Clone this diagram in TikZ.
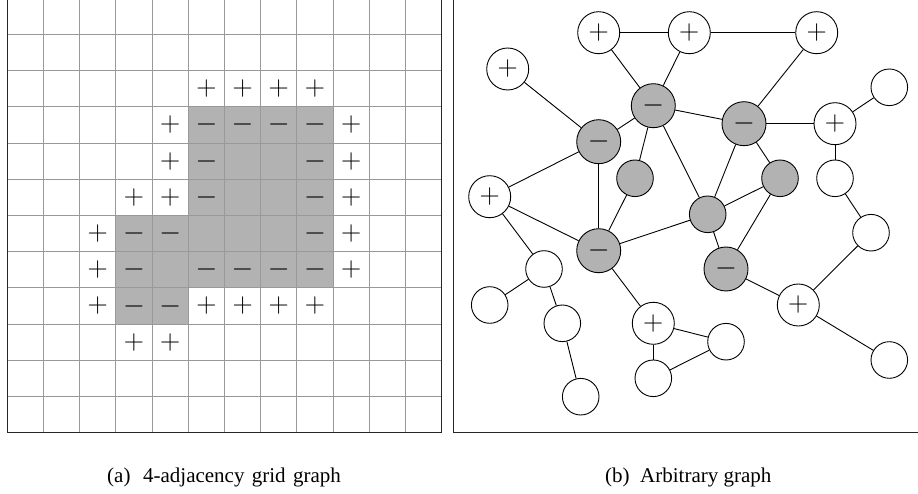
\RequirePackage{fix-cm}
\documentclass[tikz,border=0pt]{standalone}
\usepackage[no-math]{fontspec}
\setmainfont{Liberation Serif}
\begin{document}
\begin{tikzpicture}[x=1pt,y=-1pt,
  gridline/.style={draw=black!40, line width=0.9pt},
  frameline/.style={draw=black!85, line width=1.1pt},
  cellfill/.style={fill=black!30},
  sign/.style={inner sep=0pt, font=\fontsize{28}{30}\selectfont},
  pnode/.style={circle, draw, line width=0.9pt, fill=white, minimum size=42pt, inner sep=0pt, font=\fontsize{28}{30}\selectfont},
  mnode/.style={circle, draw, line width=0.9pt, fill=black!30, minimum size=44pt, inner sep=0pt, font=\fontsize{28}{30}\selectfont},
  gnode/.style={circle, draw, line width=0.9pt, fill=black!30, minimum size=36.6pt, inner sep=0pt},
  enode/.style={circle, draw, line width=0.9pt, fill=white, minimum size=36.6pt, inner sep=0pt},
  link/.style={draw, line width=0.9pt},
  captext/.style={font=\fontsize{21}{24}\selectfont, inner sep=0pt, anchor=base west}
]
\useasboundingbox (0,0) rectangle (918,494);
\clip (0,0) rectangle (918,494);

% ---------- (a) grid ----------
\begin{scope}[shift={(7.3,-1.7)}, x=36.2pt, y=-36.2pt]
  \fill[cellfill] (5,3) rectangle (9,8);
  \fill[cellfill] (3,6) rectangle (5,9);
  \foreach \i in {1,...,11} {
    \draw[gridline] (\i,0) -- (\i,12);
    \draw[gridline] (0,\i) -- (12,\i);
  }
  \foreach \c/\r in {5/2,6/2,7/2,8/2,4/3,9/3,4/4,9/4,3/5,4/5,9/5,2/6,9/6,2/7,9/7,2/8,5/8,6/8,7/8,8/8,3/9,4/9}
    \node[sign] (p-\c-\r) at ({\c+0.5},{\r+0.5}) {$+$};
  \foreach \c/\r in {5/3,6/3,7/3,8/3,5/4,8/4,5/5,8/5,3/6,4/6,8/6,3/7,5/7,6/7,7/7,8/7,3/8,4/8}
    \node[sign] (m-\c-\r) at ({\c+0.5},{\r+0.5}) {$-$};
  \draw[frameline] (0,-0.2) -- (0,12) -- (12,12) -- (12,-0.2);
\end{scope}

% ---------- (b) arbitrary graph ----------
\draw[frameline] (453.3,-5) -- (453.3,432.7) -- (925,432.7);

\node[pnode] (n1)  at (598.7,32.7) {$+$};
\node[pnode] (n2)  at (689.3,32.7) {$+$};
\node[pnode] (n3)  at (816.7,32.7) {$+$};
\node[pnode] (n4)  at (507.7,69)   {$+$};
\node[mnode] (n5)  at (653.3,105.7) {$-$};
\node[mnode] (n6)  at (744,123.7)  {$-$};
\node[mnode] (n7)  at (598.7,141.7) {$-$};
\node[pnode] (n8)  at (835,123.7)  {$+$};
\node[enode] (n9)  at (889.3,87.3) {};
\node[gnode] (n10) at (635,178.3)  {};
\node[gnode] (n11) at (780,178.3)  {};
\node[enode] (n12) at (835,178.3)  {};
\node[pnode] (n13) at (489.7,196.7) {$+$};
\node[gnode] (n14) at (707.7,214.3) {};
\node[mnode] (n15) at (598.7,250.7) {$-$};
\node[enode] (n16) at (871,232.7)  {};
\node[mnode] (n17) at (726,269)    {$-$};
\node[enode] (n18) at (544,269)    {};
\node[enode] (n19) at (489.7,305)  {};
\node[pnode] (n20) at (798.3,305)  {$+$};
\node[enode] (n21) at (562.3,323.3) {};
\node[pnode] (n22) at (653.3,323.3) {$+$};
\node[enode] (n23) at (726,341.7)  {};
\node[enode] (n24) at (653.3,378.3) {};
\node[enode] (n25) at (889.3,360)  {};
\node[enode] (n26) at (580.7,396.7) {};

\foreach \a/\b in {n1/n2,n2/n3,n1/n5,n2/n5,n3/n6,n4/n7,n5/n7,n5/n6,n5/n10,n5/n14,
  n6/n8,n6/n14,n6/n11,n8/n9,n8/n12,n7/n13,n7/n15,n10/n15,n13/n15,n13/n18,
  n14/n15,n14/n11,n14/n17,n11/n17,n17/n20,n20/n16,n16/n12,n20/n25,
  n18/n19,n18/n21,n21/n26,n15/n22,n22/n23,n22/n24,n24/n23}
  \draw[link] (\a) -- (\b);

% ---------- captions ----------
\node[captext] (capa) at (107,482) {(a)\hspace{0.6em}4-adjacency\hspace{0.35em}grid\hspace{0.35em}graph};
\node[captext] (capb) at (605,482) {(b)\hspace{0.5em}Arbitrary graph};
\end{tikzpicture}
\end{document}
